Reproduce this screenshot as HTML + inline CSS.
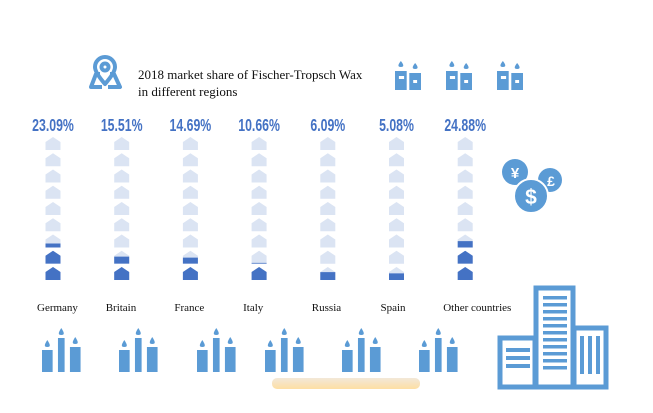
<!DOCTYPE html>
<html><head><meta charset="utf-8"><style>
body{margin:0;background:#fff;}
svg{display:block;}
</style></head><body>
<svg width="653" height="413" viewBox="0 0 653 413" xmlns="http://www.w3.org/2000/svg">
<defs>
<linearGradient id="og" x1="0" x2="0" y1="0" y2="1"><stop offset="0" stop-color="#f0e4d2"/><stop offset="1" stop-color="#fdd993"/></linearGradient>
</defs>
<g fill="none" stroke="#5b9bd5" stroke-width="4" stroke-linejoin="round">
<path d="M102 87 L91 87 L96 74 L100 74 M110 74 L114 74 L120 87 L108 87"/>
<path d="M105 84 C98 76 95 71 95 67 A10 10 0 0 1 115 67 C115 71 112 76 105 84Z"/>
<circle cx="105" cy="67" r="3.5"/>
</g>
<text x="138" y="79" font-family="Liberation Serif, serif" font-size="13" fill="#111">2018 market share of Fischer-Tropsch Wax</text>
<text x="138" y="96" font-family="Liberation Serif, serif" font-size="13" fill="#111">in different regions</text>
<g id="topcandles"></g>
<g id="coins">
<circle cx="515" cy="172" r="13" fill="#5b9bd5"/><text x="515" y="178" text-anchor="middle" font-family="Liberation Sans,sans-serif" font-weight="bold" font-size="15" fill="#fff">¥</text>
<circle cx="550" cy="180" r="12" fill="#5b9bd5"/><text x="551" y="186" text-anchor="middle" font-family="Liberation Sans,sans-serif" font-weight="bold" font-size="14" fill="#fff">£</text>
<circle cx="531" cy="196" r="17" fill="#5b9bd5" stroke="#fff" stroke-width="2"/><text x="531" y="204" text-anchor="middle" font-family="Liberation Sans,sans-serif" font-weight="bold" font-size="21" fill="#fff">$</text>
</g>
<g id="chart"></g>
<g id="candles"></g>
<rect x="272" y="378" width="148" height="11" rx="5" fill="url(#og)" opacity="0.85"/>
<g fill="none" stroke="#5b9bd5" stroke-width="5">
<rect x="500" y="338" width="35" height="49"/>
<rect x="536" y="288" width="37" height="99"/>
<rect x="574" y="328" width="32" height="59"/>
</g>
<g id="bdetail" fill="#5b9bd5"></g>
</svg>
<script>
const regions=["Germany","Britain","France","Italy","Russia","Spain","Other countries"];
const shares=[23.09,15.51,14.69,10.66,6.09,5.08,24.88];
const labels=["23.09%","15.51%","14.69%","10.66%","6.09%","5.08%","24.88%"];
const perIcon=10, nIcons=9;
const NS="http://www.w3.org/2000/svg";
function mk(t,a,p){const e=document.createElementNS(NS,t);for(const k in a)e.setAttribute(k,a[k]);p.appendChild(e);return e;}
const x0=53, dx=68.7;
function xPos(i){return x0+i*dx;}
const baseY=280, pitch=16.25, iw=15, ih=13;
function iconY(k){return baseY-k*pitch;}
const chart=document.getElementById('chart');
function housePath(cx,by){const l=cx-iw/2,r=cx+iw/2,t=by-ih;return `M${l} ${by} L${r} ${by} L${r} ${t+5} L${cx} ${t} L${l} ${t+5} Z`;}
regions.forEach((name,i)=>{
  const cx=xPos(i);
  const g=mk('g',{},chart);
  
  
  const lab=mk('text',{x:cx,y:131,'text-anchor':'middle','font-family':'Liberation Sans Narrow, Liberation Sans, sans-serif','font-weight':'bold','font-size':'15',fill:'#4472c4',transform:`translate(${cx},131) scale(0.82,1.15) translate(${-cx},-131)`},g);
  lab.textContent=labels[i];
  
  
  const cid='c'+i;
  for(let k=0;k<nIcons;k++){
    const by=iconY(k);
    const p=mk('path',{d:housePath(cx,by),fill:'#dbe4f3'},g);
    
    
    const frac=Math.max(0,Math.min(1,(shares[i]-k*perIcon)/perIcon));
    if(frac>0){
      const clip=mk('clipPath',{id:cid+'_'+k},g);
      mk('rect',{x:cx-iw,y:by-ih*frac,width:iw*2,height:ih*frac},clip);
      const f=mk('path',{d:housePath(cx,by),fill:'#4472c4','clip-path':`url(#${cid}_${k})`},g);
      
      
    }
  }
  const n=mk('text',{x:(i==6?cx-22:cx-16),y:311,'font-family':'Liberation Serif, serif','font-size':'11',fill:'#111'},g);
  n.textContent=name;
  
  
});
function candles(par,x,y){
  const g=mk('g',{transform:`translate(${x},${y}) scale(1.33,1)`,fill:'#5b9bd5'},par);
  
  
  mk('rect',{x:0,y:22,width:8,height:22},g);mk('path',{d:'M4 12 C1.5 17 1.5 19 4 19 C6.5 19 6.5 17 4 12Z'},g);
  mk('rect',{x:12,y:10,width:5,height:34},g);mk('path',{d:'M14.5 0 C12 5 12 7 14.5 7 C17 7 17 5 14.5 0Z'},g);
  mk('rect',{x:21,y:19,width:8,height:25},g);mk('path',{d:'M25 9 C22.5 14 22.5 16 25 16 C27.5 16 27.5 14 25 9Z'},g);
}
const cg=document.getElementById('candles');
[42,119,197,265,342,419].forEach(x=>candles(cg,x,328));
const tg=document.getElementById('topcandles');
[395,446,497].forEach(x=>{
  const g=mk('g',{transform:`translate(${x},61) scale(1.3,1)`,fill:'#5b9bd5'},tg);
  
  
  mk('rect',{x:0,y:10,width:9,height:19},g);mk('rect',{x:11,y:12,width:9,height:17},g);
  mk('path',{d:'M4.5 0 C2 4 2 6 4.5 6 C7 6 7 4 4.5 0Z'},g);mk('path',{d:'M15.5 2 C13 6 13 8 15.5 8 C18 8 18 6 15.5 2Z'},g);
  mk('rect',{x:3,y:15,width:4,height:3,fill:'#fff'},g);mk('rect',{x:14,y:19,width:3,height:3,fill:'#fff'},g);
});
const bd=document.getElementById('bdetail');
for(let r=0;r<11;r++){mk('rect',{x:543,y:296+r*7,width:24,height:3.5},bd);}
for(let r=0;r<3;r++){mk('rect',{x:506,y:348+r*8,width:24,height:4},bd);}
for(let c=0;c<3;c++){mk('rect',{x:580+c*8,y:336,width:4,height:38},bd);}
</script>
</body></html>
